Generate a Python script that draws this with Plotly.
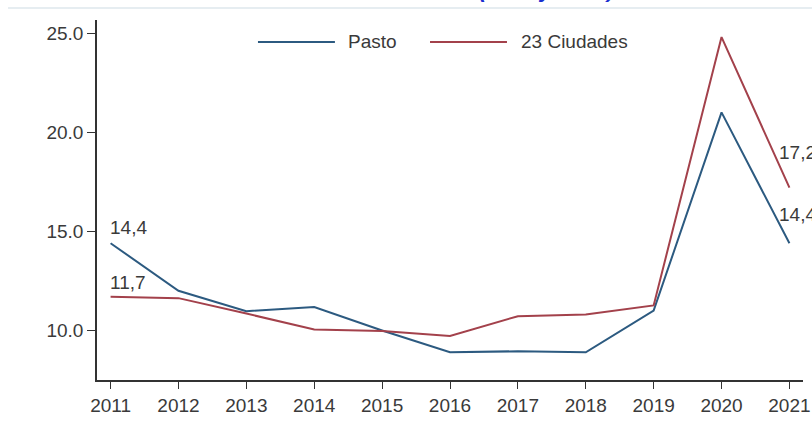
import plotly.graph_objects as go

# datos
anios = [2011, 2012, 2013, 2014, 2015, 2016, 2017, 2018, 2019, 2020, 2021]
pasto = [14.4, 12.0, 10.97, 11.18, 10.0, 8.9, 8.95, 8.9, 11.0, 21.0, 14.4]
ciudades = [11.7, 11.63, 10.85, 10.05, 9.97, 9.72, 10.72, 10.8, 11.26, 24.8, 17.2]
series = ['Pasto', '23 Ciudades']

y_ticks = [10, 15, 20, 25]

azul = '#2c5a80'
rojo = '#a3414b'
gris_texto = '#3a3a3a'
fuente = 'Liberation Sans, Arial, sans-serif'
tam = 19

fig = go.Figure()

fig.add_trace(go.Scatter(
    x=anios, y=pasto, name=series[0], mode='lines',
    line=dict(color=azul, width=2)
))
fig.add_trace(go.Scatter(
    x=anios, y=ciudades, name=series[1], mode='lines',
    line=dict(color=rojo, width=2)
))

# etiquetas de valores
etiquetas = [
    dict(x=anios[0], y=pasto[0], text='14,4', xshift=-3, yshift=3),
    dict(x=anios[0], y=ciudades[0], text='11,7', xshift=-3, yshift=2),
    dict(x=anios[-1], y=ciudades[-1], text='17,2', xshift=-12, yshift=23),
    dict(x=anios[-1], y=pasto[-1], text='14,4', xshift=-12, yshift=16),
]
for e in etiquetas:
    fig.add_annotation(
        x=e['x'], y=e['y'], text=e['text'], showarrow=False,
        xanchor='left', yanchor='bottom', xshift=e['xshift'], yshift=e['yshift'],
        font=dict(family=fuente, size=tam, color=gris_texto)
    )

# leyenda dibujada a mano (lineas largas como en el original)
leyenda = [
    dict(nombre=series[0], color=azul, x0=0.228, x1=0.337, xt=0.352),
    dict(nombre=series[1], color=rojo, x0=0.4717, x1=0.5807, xt=0.598),
]
for item in leyenda:
    fig.add_shape(
        type='line', xref='paper', yref='paper', x0=item['x0'], x1=item['x1'],
        y0=0.939, y1=0.939, line=dict(color=item['color'], width=2)
    )
    fig.add_annotation(
        xref='paper', yref='paper', x=item['xt'], y=0.939, text=item['nombre'],
        showarrow=False, xanchor='left', yanchor='middle',
        font=dict(family=fuente, size=tam, color=gris_texto)
    )

# titulo recortado arriba
fig.add_annotation(
    xref='paper', yref='paper', x=0.637, y=1.044, text='<b><i>(2011 y 2021)</i></b>',
    showarrow=False, xanchor='center', yanchor='bottom',
    font=dict(family=fuente, size=22, color='#1a2fd0')
)
fig.add_shape(
    type='line', xref='paper', yref='paper', x0=-0.126, x1=1.02, y0=1.033, y1=1.033,
    line=dict(color='#e6edf1', width=2)
)

fig.update_layout(
    width=812, height=431,
    margin=dict(l=97, r=9, t=20, b=51),
    paper_bgcolor='white',
    plot_bgcolor='white',
    font=dict(family=fuente, size=tam, color=gris_texto),
    showlegend=False
)

fig.update_xaxes(
    range=[2010.8, 2021.2], tickvals=anios, ticktext=[str(a) for a in anios],
    showline=True, linecolor='#333', linewidth=1.5, ticks='outside', ticklen=7,
    tickcolor='#333', showgrid=False, zeroline=False, automargin=False,
    tickfont=dict(family=fuente, size=tam, color=gris_texto)
)
fig.update_yaxes(
    range=[7.5, 25.66], tickvals=y_ticks, ticktext=[f'{v:.1f}' for v in y_ticks],
    showline=True, linecolor='#333', linewidth=1.5, ticks='outside', ticklen=8,
    tickcolor='#333', showgrid=False, zeroline=False, automargin=False,
    tickfont=dict(family=fuente, size=tam, color=gris_texto)
)

# quitar el margen de la pagina para que la figura empiece en 0,0
fig.write_html('out.html', config={'displayModeBar': False},
               post_script="document.body.style.margin='0';")
